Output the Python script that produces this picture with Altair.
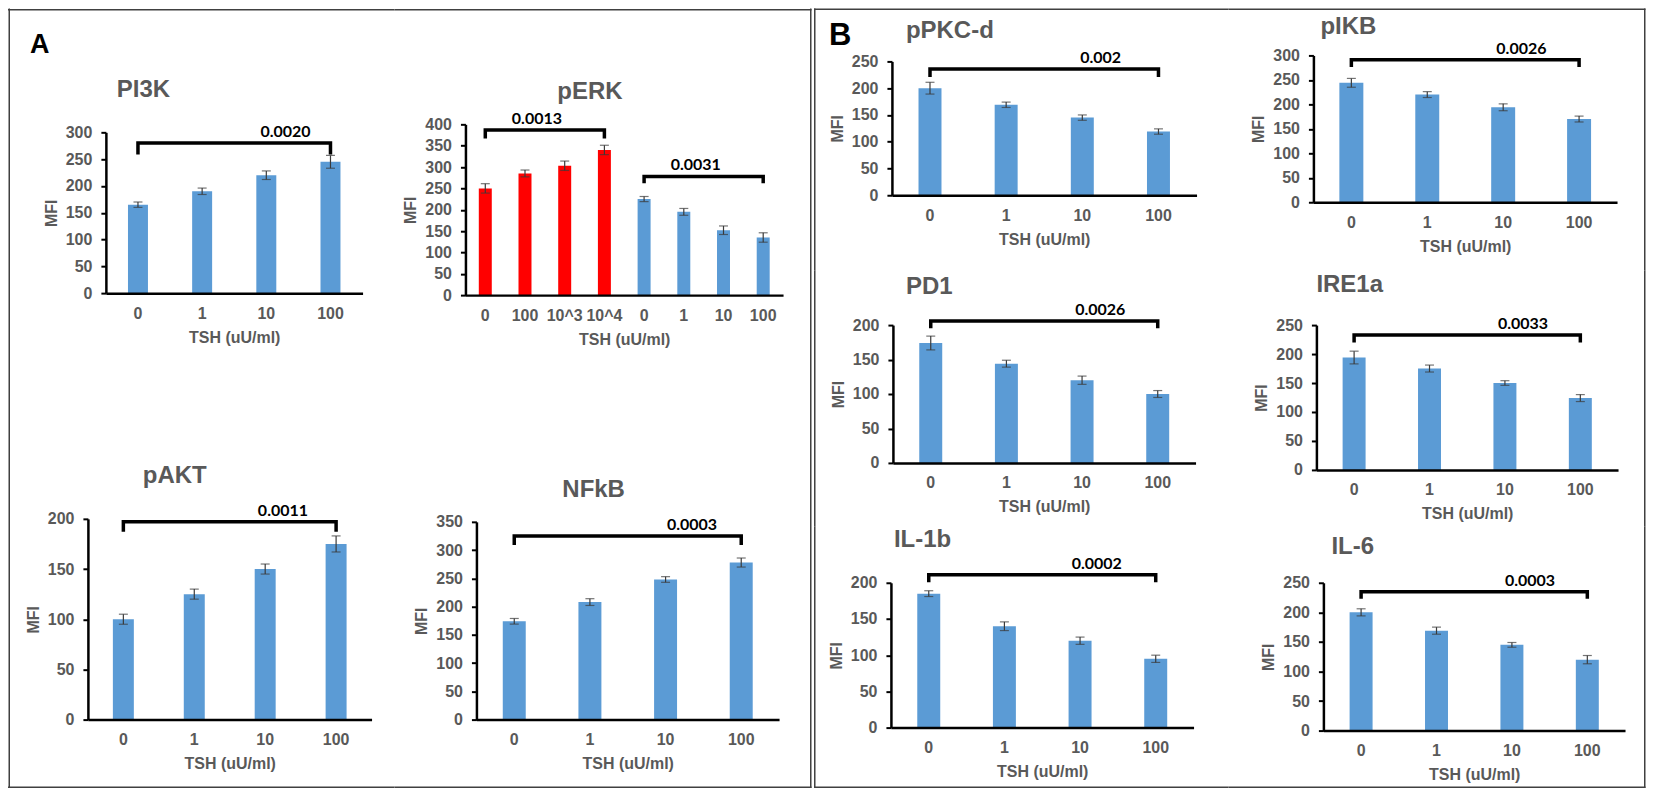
import json
import altair as alt
import pandas as pd

# ---------------- data ----------------
doses = ["0", "1", "10", "100"]
blue_groups = ["set 2", "set 2", "set 2", "set 2"]

perk_doses = ["0", "100", "10^3", "10^4", "0", "1", "10", "100"]
perk_keys = [str(i) for i in range(len(perk_doses))]
perk_groups = ["set 1", "set 1", "set 1", "set 1", "set 2", "set 2", "set 2", "set 2"]

titles = ["PI3K", "pERK", "pAKT", "NFkB", "pPKC-d", "pIKB", "PD1", "IRE1a", "IL-1b", "IL-6"]
panel_letters = ["A", "B"]

pi3k_mfi = [165, 190, 220, 245]
pi3k_err = [5, 6, 8, 12]
perk_mfi = [250, 285, 303, 340, 225, 195, 152, 135]
perk_err = [11, 8, 11, 11, 6, 8, 10, 11]
pakt_mfi = [100, 125, 150, 175]
pakt_err = [5, 5, 5, 8]
nfkb_mfi = [174, 208, 248, 278]
nfkb_err = [5, 6, 5, 8]
ppkc_mfi = [200, 169, 145, 119]
ppkc_err = [11, 5, 5, 5]
pikb_mfi = [244, 220, 194, 170]
pikb_err = [9, 6, 7, 6]
pd1_mfi = [174, 144, 120, 100]
pd1_err = [10, 5, 6, 5]
ire1a_mfi = [194, 175, 150, 124]
ire1a_err = [11, 6, 4, 6]
il1b_mfi = [185, 140, 120, 95]
il1b_err = [4, 6, 5, 5]
il6_mfi = [200, 169, 145, 120]
il6_err = [6, 6, 4, 7]

# significance brackets: from / to category, top and drop level, p label, label anchor category
pi3k_br = dict(frm=["0"], to=["100"], top=[280], low=[262], p=["0.0020"], anchor=["10"])
perk_br = dict(frm=["0", "4"], to=["3", "7"], top=[387, 278], low=[371, 266],
               p=["0.0013", "0.0031"], anchor=["1", "5"])
pakt_br = dict(frm=["0"], to=["100"], top=[197], low=[189], p=["0.0011"], anchor=["10"])
nfkb_br = dict(frm=["0"], to=["100"], top=[325], low=[312], p=["0.0003"], anchor=["10"])
ppkc_br = dict(frm=["0"], to=["100"], top=[236], low=[224], p=["0.002"], anchor=["10"])
pikb_br = dict(frm=["0"], to=["100"], top=[291], low=[280], p=["0.0026"], anchor=["10"])
pd1_br = dict(frm=["0"], to=["100"], top=[206], low=[198], p=["0.0026"], anchor=["10"])
ire1a_br = dict(frm=["0"], to=["100"], top=[233], low=[223], p=["0.0033"], anchor=["10"])
il1b_br = dict(frm=["0"], to=["100"], top=[211], low=[203], p=["0.0002"], anchor=["10"])
il6_br = dict(frm=["0"], to=["100"], top=[235], low=[226], p=["0.0003"], anchor=["10"])

# ---------------- style ----------------
FONT = "Liberation Sans"
GRAY = "#595959"
ERRC = "#3a3a3a"
BORDER = "#404040"
color_scale = alt.Scale(domain=["set 1", "set 2"], range=["#FF0000", "#5B9BD5"])


def one_row():
    return pd.DataFrame({"k": [0]})


def build(name, keys, groups, mfi, err, ymax, br, g, label_list=None, bar=20,
          bandpos=0.8, edges=(), corner=None):
    W, H = g["W"], g["H"]
    df = pd.DataFrame({
        "cat": keys, "grp": groups, "mfi": mfi,
        "lo": [m - e for m, e in zip(mfi, err)],
        "hi": [m + e for m, e in zip(mfi, err)],
    })
    rows = []
    for i, (a, b, top, low) in enumerate(zip(br["frm"], br["to"], br["top"], br["low"])):
        rows += [dict(id=i, seq=0, cat=a, y=low), dict(id=i, seq=1, cat=a, y=top),
                 dict(id=i, seq=2, cat=b, y=top), dict(id=i, seq=3, cat=b, y=low)]
    bdf = pd.DataFrame(rows)
    tdf = pd.DataFrame({"cat": br["anchor"], "y": br["top"], "p": br["p"]})

    xs = alt.Scale(domain=keys, range=[g["x0"], g["x1"]], paddingInner=0, paddingOuter=0)
    ys = alt.Scale(domain=[0, ymax], range=[g["yb"], g["yt"]], nice=False, zero=True)

    xa = dict(title="TSH (uU/ml)", orient="bottom", offset=g["yb"] - H, zindex=1,
              labelAngle=0, ticks=False, tickSize=0, grid=False, domainColor="black",
              domainWidth=2.5, labelFont=FONT, labelFontSize=16, labelFontWeight="bold",
              labelColor=GRAY, labelPadding=12, titleFont=FONT, titleFontSize=16,
              titleFontWeight="bold", titleColor=GRAY, titlePadding=8)
    ya = dict(title="MFI", orient="left", offset=-g["x0"], zindex=1,
              values=list(range(0, ymax + 1, 50)), grid=False, domainColor="black",
              domainWidth=2.5, tickColor="black", tickWidth=2, tickSize=5,
              labelFont=FONT, labelFontSize=16, labelFontWeight="bold", labelColor=GRAY,
              labelPadding=9, titleFont=FONT, titleFontSize=16, titleFontWeight="bold",
              titleColor=GRAY, titlePadding=6)
    if label_list is not None:
        xa["labelExpr"] = json.dumps(label_list) + "[toNumber(datum.value)]"

    bars = alt.Chart(df).mark_bar(size=bar).encode(
        x=alt.X("cat:N", scale=xs, axis=alt.Axis(**xa)),
        y=alt.Y("mfi:Q", scale=ys, axis=alt.Axis(**ya)),
        color=alt.Color("grp:N", scale=color_scale, legend=None),
    )

    def X(**kw):
        return alt.X("cat:N", scale=xs, **kw)

    def Y(f):
        return alt.Y(f, scale=ys)

    errs = alt.Chart(df).mark_rule(color=ERRC, strokeWidth=1.2).encode(
        x=X(), y=Y("lo:Q"), y2="hi:Q")
    cap_lo = alt.Chart(df).mark_tick(color=ERRC, size=9, thickness=1.2).encode(
        x=X(), y=Y("lo:Q"))
    cap_hi = alt.Chart(df).mark_tick(color=ERRC, size=9, thickness=1.2).encode(
        x=X(), y=Y("hi:Q"))
    bracket = alt.Chart(bdf).mark_line(color="black", strokeWidth=3.5, strokeJoin="miter",
                                       strokeCap="square").encode(
        x=X(), y=Y("y:Q"), detail="id:N", order="seq:Q")
    ptext = alt.Chart(tdf).mark_text(font="Lato", fontSize=16, fontWeight="bold",
                                     color="black", dy=-6, baseline="alphabetic",
                                     align="center").encode(
        x=X(bandPosition=bandpos), y=Y("y:Q"), text="p:N")
    ttl = alt.Chart(pd.DataFrame({"t": [name]})).mark_text(
        font=FONT, fontSize=24, fontWeight="bold", color=GRAY, align="left",
        baseline="alphabetic").encode(x=alt.value(g["tx"]), y=alt.value(g["ty"]), text="t:N")
    layers = [bars, errs, cap_lo, cap_hi, bracket, ptext, ttl]
    # panel frame pieces: filled strips kept inside the cell so the cells tile exactly
    for (ex0, ex1, ey0, ey1) in edges:
        layers.append(alt.Chart(one_row()).mark_rect(color=BORDER, strokeWidth=0).encode(
            x=alt.value(ex0), x2=alt.value(ex1), y=alt.value(ey0), y2=alt.value(ey1)))
    if corner is not None:
        letter, cx, cy, fs = corner
        layers.append(alt.Chart(pd.DataFrame({"t": [letter]})).mark_text(
            font=FONT, fontSize=fs, fontWeight="bold", color="black", align="left",
            baseline="alphabetic").encode(x=alt.value(cx), y=alt.value(cy), text="t:N"))
    return alt.layer(*layers).properties(width=W, height=H)


# ---------------- layout (cell frames and plot rectangles, pixels) ----------------
g_pi3k = dict(W=387, H=392, x0=98, x1=355, yb=285, yt=124, tx=109, ty=89)
g_perk = dict(W=418, H=392, x0=71, x1=389, yb=287, yt=116, tx=163, ty=91)
g_pakt = dict(W=387, H=389, x0=80, x1=364, yb=320, yt=119, tx=135, ty=83)
g_nfkb = dict(W=418, H=389, x0=82, x1=385, yb=320, yt=122, tx=168, ty=97)
g_ppkc = dict(W=417, H=262, x0=80, x1=385, yb=187, yt=53, tx=94, ty=30)
g_pikb = dict(W=418, H=262, x0=85, x1=389, yb=194, yt=47, tx=92, ty=26)
g_pd1 = dict(W=417, H=257, x0=81, x1=384, yb=193, yt=55, tx=94, ty=24)
g_ire1a = dict(W=418, H=257, x0=88, x1=390, yb=200, yt=55, tx=88, ty=22)
g_il1b = dict(W=417, H=262, x0=79, x1=382, yb=201, yt=56, tx=82, ty=20)
g_il6 = dict(W=418, H=262, x0=95, x1=397, yb=204, yt=56, tx=103, ty=27)

pi3k = build(titles[0], doses, blue_groups, pi3k_mfi, pi3k_err, 300, pi3k_br, g_pi3k, bar=20,
             edges=[(0, 387, 0.5, 2), (0.5, 2, 0, 392)], corner=(panel_letters[0], 22, 45, 27))
perk = build(titles[1], perk_keys, perk_groups, perk_mfi, perk_err, 400, perk_br, g_perk,
             label_list=perk_doses, bar=13, edges=[(0, 417.5, 0.5, 2), (416, 417.5, 0, 392)])
pakt = build(titles[2], doses, blue_groups, pakt_mfi, pakt_err, 200, pakt_br, g_pakt, bar=21,
             bandpos=0.75, edges=[(0.5, 2, 0, 388.5), (0, 387, 387, 388.5)])
nfkb = build(titles[3], doses, blue_groups, nfkb_mfi, nfkb_err, 350, nfkb_br, g_nfkb, bar=23,
             bandpos=0.85, edges=[(416, 417.5, 0, 388.5), (0, 417.5, 387, 388.5)])
ppkc = build(titles[4], doses, blue_groups, ppkc_mfi, ppkc_err, 250, ppkc_br, g_ppkc, bar=23,
             bandpos=0.74, edges=[(2, 417, 0, 1.5), (2, 3.5, 0, 262)],
             corner=(panel_letters[1], 17, 37, 31))
pikb = build(titles[5], doses, blue_groups, pikb_mfi, pikb_err, 300, pikb_br, g_pikb, bar=24,
             bandpos=0.74, edges=[(0, 417.5, 0, 1.5), (416, 417.5, 0, 262)])
pd1 = build(titles[6], doses, blue_groups, pd1_mfi, pd1_err, 200, pd1_br, g_pd1, bar=23,
            bandpos=0.74, edges=[(2, 3.5, 0, 257)])
ire1a = build(titles[7], doses, blue_groups, ire1a_mfi, ire1a_err, 250, ire1a_br, g_ire1a, bar=23,
              bandpos=0.74, edges=[(416, 417.5, 0, 257)])
il1b = build(titles[8], doses, blue_groups, il1b_mfi, il1b_err, 200, il1b_br, g_il1b, bar=23,
             bandpos=0.72, edges=[(2, 3.5, 0, 261.5), (2, 417, 260, 261.5)])
il6 = build(titles[9], doses, blue_groups, il6_mfi, il6_err, 250, il6_br, g_il6, bar=23,
            bandpos=0.74, edges=[(416, 417.5, 0, 261.5), (0, 417.5, 260, 261.5)])

panel_a = alt.vconcat(alt.hconcat(pi3k, perk, spacing=0),
                      alt.hconcat(pakt, nfkb, spacing=0), spacing=0)
panel_b = alt.vconcat(alt.hconcat(ppkc, pikb, spacing=0),
                      alt.hconcat(pd1, ire1a, spacing=0),
                      alt.hconcat(il1b, il6, spacing=0), spacing=0)

chart = alt.hconcat(panel_a, panel_b, spacing=0).properties(
    padding=0, background="white").configure_view(stroke="transparent", strokeWidth=0)

chart.save("out.html", embed_options={"renderer": "svg", "actions": False})
